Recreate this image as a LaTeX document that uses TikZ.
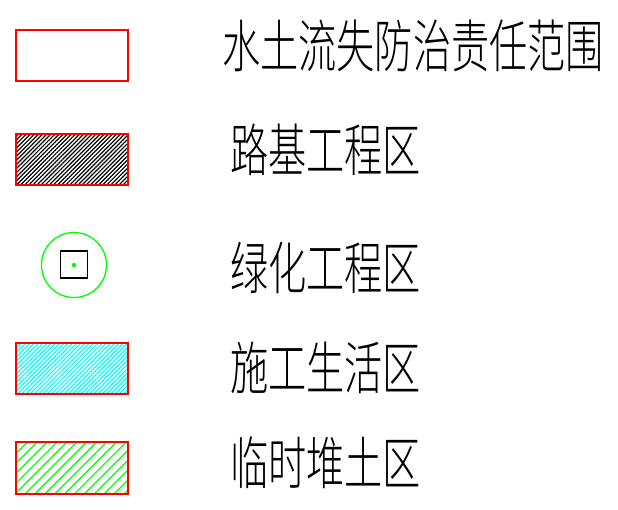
\documentclass[tikz,border=0pt]{standalone}
\usepackage{fontspec}
\newfontfamily\cjk[FakeStretch=0.67, UprightFont={* Light}]{Noto Sans CJK SC}
\usetikzlibrary{patterns.meta}

\tikzset{
  legendbox/.style={draw=red, line width=2.8pt},
  legendtext/.style={anchor=west, inner sep=0pt, font=\cjk\fontsize{57}{60}\selectfont},
  hatch/.style={pattern={Lines[angle=45, distance=#1, line width=1.2pt]}}
}

\begin{document}
\begin{tikzpicture}[x=1pt, y=-1pt]
\useasboundingbox (0,0) rectangle (618,509);

% the legend symbols
\draw[legendbox] (16,30) rectangle (128,81);
\draw[legendbox, hatch=2.9pt, pattern color=black] (16,134) rectangle (128,185);
\draw[green, line width=1.3pt] (74,265) circle (32.5);
\draw[black, line width=1.3pt] (60.5,251) rectangle (87.5,278);
\fill[green] (74,265) circle (2.2);
\draw[legendbox, hatch=3pt, pattern color=cyan] (16,343) rectangle (128,394);
\draw[legendbox, hatch=7pt, pattern color=green] (16,442) rectangle (128,494);

% the labels
\node[legendtext] (scope) at (222,46) {水土流失防治责任范围};
\node[legendtext] (road) at (230,150) {路基工程区};
\node[legendtext] (green) at (230,268) {绿化工程区};
\node[legendtext] (camp) at (230,368) {施工生活区};
\node[legendtext] (soil) at (230,463) {临时堆土区};

\end{tikzpicture}
\end{document}
